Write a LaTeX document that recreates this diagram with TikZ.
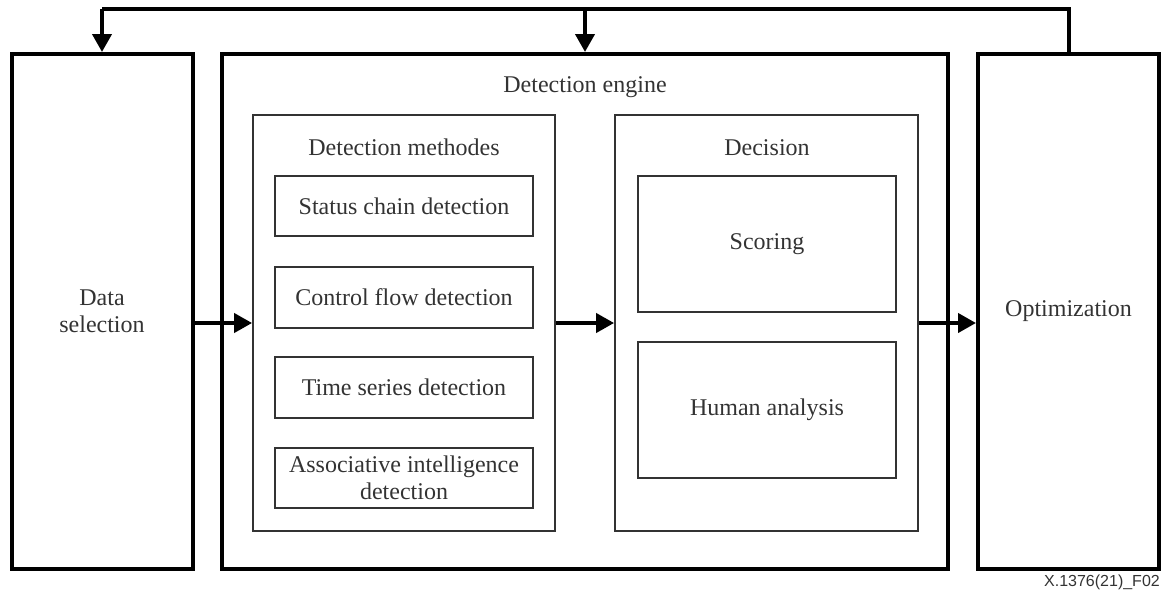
\documentclass[tikz,border=0pt]{standalone}
\usepackage{fontspec}
\setmainfont{Liberation Serif}
\newfontfamily\figlabelfont{Liberation Sans}
\usetikzlibrary{arrows.meta}
\definecolor{txt}{HTML}{333333}
\begin{document}
\begin{tikzpicture}[x=1pt,y=-1pt,
  every node/.style={font=\fontsize{24}{27.5}\selectfont, text=txt, align=center, inner sep=0pt},
  outerbox/.style={draw=black, line width=4pt, minimum width=#1},
  groupbox/.style={draw=black!80, line width=1.8pt},
  itembox/.style={draw=black!80, line width=1.6pt, minimum width=258pt},
  title/.style={anchor=base},
  flow/.style={line width=4pt, -{Triangle[length=18pt,width=19pt]}},
  feedback/.style={line width=4pt, line join=miter}
]
\useasboundingbox (0,0) rectangle (1161,592);

% outer blocks
\node[outerbox=181pt, minimum height=515pt] (ds) at (102,311.5) {Data\\selection};
\node[outerbox=726pt, minimum height=515pt] (de) at (585,311.5) {};
\node[outerbox=181pt, minimum height=515pt] (opt) at (1068.5,311.5) {Optimization};
\node[title] (detitle) at (585,92) {Detection engine};

% detection methods group
\node[groupbox, minimum width=302pt, minimum height=416pt] (dm) at (404,323) {};
\node[title] (dmtitle) at (404,155) {Detection methodes};
\node[itembox, minimum height=60pt] (sc) at (404,206) {Status chain detection};
\node[itembox, minimum height=61pt] (cf) at (404,297.5) {Control flow detection};
\node[itembox, minimum height=61pt] (ts) at (404,387.5) {Time series detection};
\node[itembox, minimum height=60pt] (ai) at (404,478) {Associative intelligence\\detection};

% decision group
\node[groupbox, minimum width=303pt, minimum height=416pt] (dec) at (766.5,323) {};
\node[title] (dectitle) at (767,155) {Decision};
\node[itembox, minimum height=136pt] (sco) at (767,244) {Scoring};
\node[itembox, minimum height=136pt] (ha) at (767,410) {Human analysis};

% main flow
\draw[flow] (ds.east |- dm.west) -- (dm.west);
\draw[flow] (dm.east) -- (dec.west);
\draw[flow] (dec.east) -- (opt.west |- dec.east);

% feedback loop from optimization
\coordinate (fb) at (1068.5,9);
\draw[feedback] (opt.north) -- (fb) -- (ds.north |- fb);
\draw[flow] (ds.north |- fb) -- (ds.north);
\draw[flow] (de.north |- fb) -- (de.north);

% figure reference
\node[font=\figlabelfont\fontsize{16}{18}\selectfont, anchor=base east] (ref) at (1160,586) {X.1376(21)\_F02};
\end{tikzpicture}
\end{document}
